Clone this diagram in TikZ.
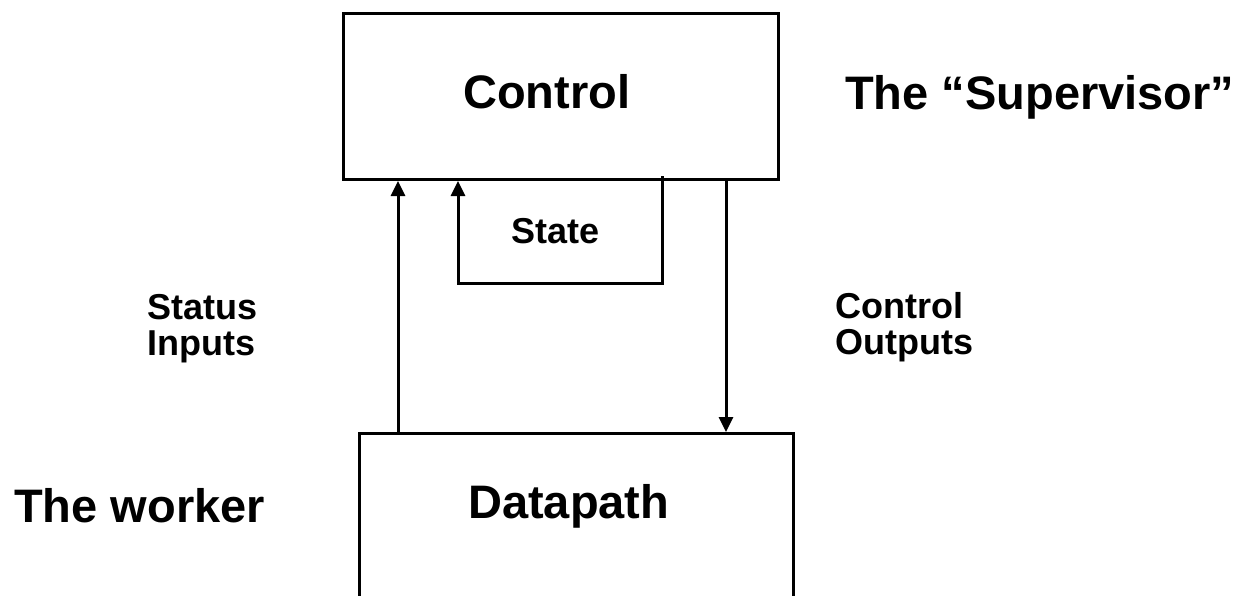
\documentclass[tikz,border=0pt]{standalone}
\usepackage{fontspec}
\setmainfont{Liberation Sans}
\usetikzlibrary{arrows.meta}
\begin{document}
\begin{tikzpicture}[x=1pt,y=-1pt,
  blockbox/.style={draw,line width=3pt,inner sep=0pt},
  bigtext/.style={anchor=base west,inner sep=0pt,font=\fontsize{47}{50}\selectfont\bfseries},
  smalltext/.style={anchor=base west,inner sep=0pt,align=left,font=\fontsize{36}{36}\selectfont\bfseries},
  wire/.style={line width=3pt},
  sig/.style={wire,-{Triangle[length=15pt,width=14pt]}}]
\clip (0,0) rectangle (1243,595);
\useasboundingbox (0,0) rectangle (1243,595);

% blocks
\node[blockbox,minimum width=435pt,minimum height=166pt,anchor=north west] (ctl) at (342,12) {};
\node[blockbox,minimum width=434pt,minimum height=190pt,anchor=north west] (dp) at (358,432) {};

% block titles
\node[bigtext] (ctltxt) at (463,108) {Control};
\node[bigtext] (dptxt) at (468,518) {Datapath};
\node[bigtext] (sup) at (845,109) {The “Supervisor”};
\node[bigtext] (wrk) at (14,522) {The worker};

% signal labels (anchored at the baseline of the last line)
\node[smalltext] (stl) at (147,355) {Status\\Inputs};
\node[smalltext] (col) at (835,354) {Control\\Outputs};
\node[smalltext] (sttxt) at (511,243) {State};

% wire columns
\coordinate (sx) at (398,0);
\coordinate (fx) at (458,0);
\coordinate (rx) at (662,0);
\coordinate (ox) at (726,0);
\coordinate (ly) at (0,283);

% status inputs: datapath up to control
\draw[sig] (dp.north -| sx) -- (ctl.south -| sx);
% state feedback loop
\draw[sig] ([yshift=5pt]ctl.south -| rx) -- (rx |- ly) -- (fx |- ly) -- (ctl.south -| fx);
% control outputs: control down to datapath
\draw[sig] ([yshift=3pt]ctl.south -| ox) -- (dp.north -| ox);
\end{tikzpicture}
\end{document}
